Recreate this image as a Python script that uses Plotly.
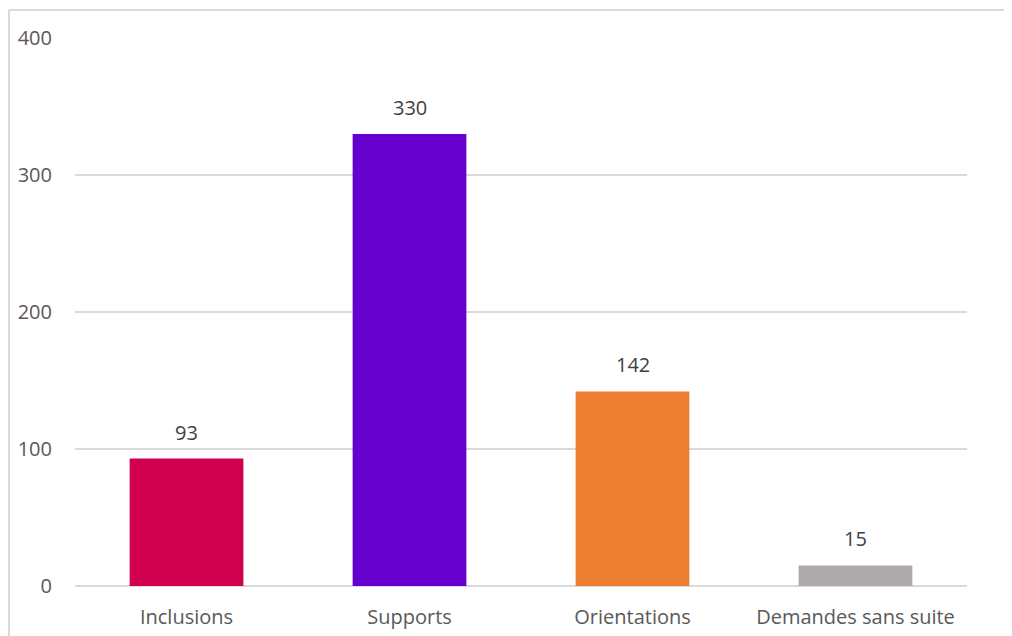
import plotly.graph_objects as go

categories = ["Inclusions", "Supports", "Orientations", "Demandes sans suite"]
values = [93, 330, 142, 15]
colors = ["#D0004F", "#6600CC", "#ED7D31", "#AEAAAA"]
y_ticks = [0, 100, 200, 300, 400]

FONT = "Open Sans"
FS = 20

fig = go.Figure(go.Bar(
    x=categories, y=values,
    marker=dict(color=colors, line=dict(width=0)),
    width=0.51,
    cliponaxis=False,
))

for c, v in zip(categories, values):
    fig.add_annotation(x=c, y=v, text=str(v), showarrow=False,
                       yanchor="bottom", yshift=11,
                       font=dict(family=FONT, size=FS, color="#404040"))

W, H = 1004, 628
l, r, t, b = 67, 45, 30, 50
pw, ph = W - l - r, H - t - b
top_y = 1 + (t - 2) / ph
left_x = (1 - l) / pw

fig.update_layout(
    width=W, height=H,
    margin=dict(l=l, r=r, t=t, b=b, autoexpand=False),
    paper_bgcolor="white", plot_bgcolor="white",
    showlegend=False,
    font=dict(family=FONT, size=FS, color="#595959"),
    xaxis=dict(showgrid=False, showline=False, ticks="", ticklabelstandoff=17,
               automargin=False, tickfont=dict(family=FONT, size=FS, color="#595959")),
    yaxis=dict(range=[0, 400], tickvals=y_ticks, showgrid=True, gridcolor="#D9D9D9", gridwidth=1.5,
               zeroline=True, zerolinecolor="#D9D9D9", zerolinewidth=1.5, showline=False,
               ticks="", ticklabelstandoff=22, automargin=False,
               tickfont=dict(family=FONT, size=FS, color="#595959")),
    shapes=[
        dict(type="line", xref="paper", yref="paper", x0=left_x, x1=1.2, y0=top_y, y1=top_y,
             line=dict(color="#D9D9D9", width=2), layer="below"),
        dict(type="line", xref="paper", yref="paper", x0=left_x, x1=left_x, y0=-0.3, y1=top_y,
             line=dict(color="#D9D9D9", width=2), layer="below"),
    ],
)

fig.write_html("out.html")
